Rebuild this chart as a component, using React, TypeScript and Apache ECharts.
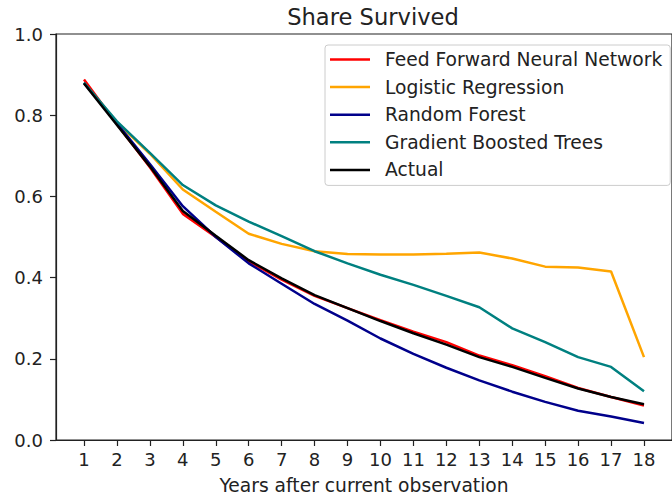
import React, { useEffect, useRef } from "react";
import * as echarts from "echarts";

const years = [1, 2, 3, 4, 5, 6, 7, 8, 9, 10, 11, 12, 13, 14, 15, 16, 17, 18];
const yTicks = [0, 0.2, 0.4, 0.6, 0.8, 1.0];

const seriesNames = [
  "Feed Forward Neural Network",
  "Logistic Regression",
  "Random Forest",
  "Gradient Boosted Trees",
  "Actual",
];
const seriesColors = ["#ff0000", "#ffa500", "#00008b", "#008080", "#000000"];

const ffnn = [0.888, 0.778, 0.672, 0.557, 0.5, 0.44, 0.395, 0.355, 0.325, 0.295, 0.267, 0.241, 0.208, 0.184, 0.157, 0.128, 0.106, 0.085];
const logistic = [0.88, 0.782, 0.705, 0.617, 0.562, 0.508, 0.483, 0.465, 0.458, 0.457, 0.457, 0.459, 0.462, 0.447, 0.427, 0.425, 0.415, 0.204];
const randomForest = [0.88, 0.78, 0.68, 0.576, 0.5, 0.435, 0.385, 0.335, 0.294, 0.25, 0.212, 0.178, 0.147, 0.119, 0.094, 0.072, 0.058, 0.042];
const gbt = [0.88, 0.785, 0.707, 0.628, 0.578, 0.538, 0.502, 0.465, 0.435, 0.407, 0.382, 0.355, 0.327, 0.275, 0.241, 0.204, 0.18, 0.12];
const actual = [0.878, 0.776, 0.674, 0.564, 0.503, 0.443, 0.398, 0.357, 0.325, 0.293, 0.263, 0.235, 0.204, 0.18, 0.153, 0.127, 0.106, 0.088];

const allValues = [ffnn, logistic, randomForest, gbt, actual];

const FONT = "DejaVu Sans";

export default function App() {
  const ref = useRef<HTMLDivElement>(null);
  useEffect(() => {
    if (!ref.current) return;
    const chart = echarts.init(ref.current, null, { renderer: "svg" });
    chart.setOption({
      animation: false,
      textStyle: { fontFamily: FONT },
      title: {
        text: "Share Survived",
        left: 368,
        textAlign: "center",
        top: 0,
        textStyle: { fontFamily: FONT, fontSize: 22.6, fontWeight: "normal", color: "#222" },
      },
      legend: {
        orient: "vertical",
        left: 325,
        top: 45,
        padding: [5, 8, 6, 5],
        icon: "rect",
        itemWidth: 40,
        itemHeight: 2.5,
        itemGap: 8.6,
        borderColor: "#cccccc",
        borderWidth: 1,
        borderRadius: 3,
        backgroundColor: "rgba(255,255,255,0.8)",
        data: seriesNames,
        textStyle: {
          fontFamily: FONT,
          fontSize: 18.7,
          lineHeight: 18,
          color: "#222",
          padding: [0, 0, 0, 10],
        },
      },
      grid: {
        left: 56,
        top: 34,
        width: 624,
        height: 408,
        show: true,
        borderColor: "#222",
        borderWidth: 1.2,
        backgroundColor: "transparent",
      },
      xAxis: {
        type: "value",
        min: 0.15,
        max: 18.85,
        name: "Years after current observation",
        nameLocation: "middle",
        nameGap: 36,
        nameTextStyle: { fontFamily: FONT, fontSize: 18.7, color: "#222" },
        axisLine: { show: true, lineStyle: { color: "#222", width: 1.2 } },
        axisTick: { show: true, length: 6, customValues: years, lineStyle: { color: "#222", width: 1.2 } },
        axisLabel: { customValues: years, fontFamily: FONT, fontSize: 18, color: "#222", margin: 10 },
        splitLine: { show: false },
      },
      yAxis: {
        type: "value",
        min: 0,
        max: 1,
        interval: 0.2,
        axisLine: { show: true, lineStyle: { color: "#222", width: 1.2 } },
        axisTick: { show: true, length: 6, lineStyle: { color: "#222", width: 1.2 } },
        axisLabel: {
          fontFamily: FONT,
          fontSize: 18,
          color: "#222",
          margin: 13,
          formatter: (v: number) => (yTicks.some((t) => Math.abs(t - v) < 1e-6) ? v.toFixed(1) : ""),
        },
        splitLine: { show: false },
      },
      series: seriesNames.map((name, i) => ({
        name,
        type: "line",
        symbol: "none",
        color: seriesColors[i],
        itemStyle: { color: seriesColors[i] },
        lineStyle: { width: 2.5, color: seriesColors[i] },
        data: years.map((y, j) => [y, allValues[i][j]]),
      })),
    });
    return () => chart.dispose();
  }, []);
  return (
    <div
      ref={ref}
      style={{ position: "fixed", left: 0, top: 0, width: 672, height: 500, background: "#fff" }}
    />
  );
}
